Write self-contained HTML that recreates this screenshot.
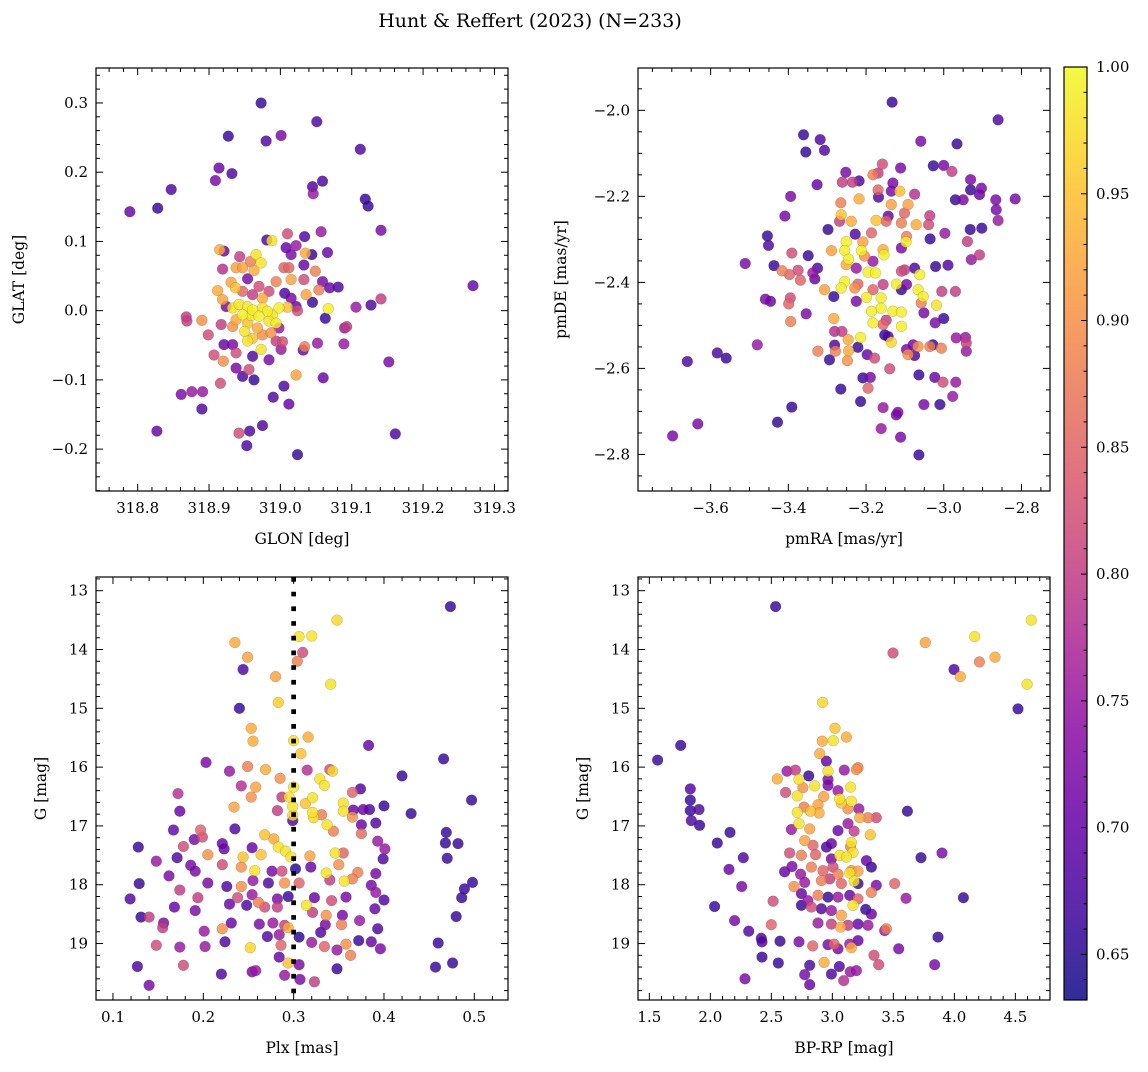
<!DOCTYPE html>
<html><head><meta charset="utf-8"><style>
html,body{margin:0;padding:0;background:#fff;}
svg text{font-family:"DejaVu Serif","Liberation Serif",serif;fill:#000;}
</style></head><body>
<svg id="fig" xmlns="http://www.w3.org/2000/svg" width="1148" height="1067" viewBox="0 0 1148 1067">
<defs>
<linearGradient id="plasmaGrad" x1="0" y1="1" x2="0" y2="0">
<stop offset="0" stop-color="#0d0887"/><stop offset="0.1" stop-color="#41049d"/><stop offset="0.2" stop-color="#6a00a8"/><stop offset="0.3" stop-color="#8f0da4"/><stop offset="0.4" stop-color="#b12a90"/><stop offset="0.5" stop-color="#cc4778"/><stop offset="0.6" stop-color="#e16462"/><stop offset="0.7" stop-color="#f2844b"/><stop offset="0.8" stop-color="#fca636"/><stop offset="0.9" stop-color="#fcce25"/><stop offset="1" stop-color="#f0f921"/>
</linearGradient>
</defs>
<text x="530" y="27" font-size="19" text-anchor="middle">Hunt &amp; Reffert (2023) (N=233)</text>
</svg>
<script>
// ---- data: [x, y, membership probability] ----
const posData = [[318.973,0.300,.66],[319.051,0.273,.68],[318.927,0.252,.66],[318.980,0.245,.68],[319.001,0.253,.72],[319.112,0.233,.68],[318.914,0.206,.7],[318.932,0.198,.68],[318.909,0.188,.72],[318.847,0.175,.68],[318.828,0.148,.66],[318.789,0.143,.7],[319.045,0.179,.68],[319.046,0.169,.75],[319.059,0.187,.68],[319.119,0.161,.66],[319.123,0.151,.66],[319.141,0.116,.72],[319.270,0.036,.7],[318.981,0.102,.68],[318.988,0.101,.98],[319.010,0.111,.82],[319.034,0.107,.68],[319.057,0.114,.75],[319.066,0.084,.7],[319.008,0.091,.7],[319.022,0.094,.75],[319.015,0.081,.72],[319.035,0.083,.93],[319.044,0.081,.66],[318.915,0.088,.93],[318.921,0.086,.7],[318.943,0.078,.8],[318.966,0.081,.98],[318.973,0.069,.98],[318.958,0.071,.88],[318.919,0.060,.78],[318.938,0.062,.92],[318.947,0.062,.92],[318.963,0.058,.93],[319.005,0.062,.85],[319.012,0.062,.85],[319.015,0.045,.92],[319.033,0.066,.7],[319.033,0.045,.82],[319.049,0.057,.88],[319.059,0.042,.72],[319.054,0.030,.88],[319.069,0.033,.7],[319.081,0.034,.68],[318.994,0.042,.88],[318.954,0.046,.72],[318.931,0.041,.92],[318.970,0.035,.82],[318.912,0.029,.93],[318.919,0.016,.92],[318.937,0.033,.95],[318.947,0.028,.85],[318.961,0.023,.8],[318.975,0.018,.93],[318.984,0.028,.82],[319.006,0.025,.68],[319.015,0.018,.72],[319.036,0.023,.92],[319.045,0.012,.66],[319.022,0.006,.7],[319.024,0.000,.82],[319.067,0.003,.99],[319.063,-0.011,.66],[318.924,0.006,.72],[318.933,0.004,.98],[318.942,0.009,.98],[318.954,0.006,.98],[318.961,0.001,.99],[318.975,0.004,.98],[318.982,-0.001,.99],[318.989,-0.006,.98],[318.998,0.004,.99],[319.010,0.005,.95],[318.947,-0.006,.99],[318.959,-0.007,.98],[318.970,-0.008,.99],[318.984,-0.015,.98],[318.994,-0.018,.99],[318.938,-0.013,.93],[318.954,-0.018,.95],[318.868,-0.009,.8],[318.869,-0.015,.8],[318.890,-0.014,.9],[318.917,-0.020,.8],[318.933,-0.023,.9],[318.950,-0.030,.98],[318.968,-0.025,.93],[318.975,-0.035,.9],[318.987,-0.032,.9],[318.998,-0.025,.75],[318.899,-0.035,.82],[318.921,-0.049,.7],[318.933,-0.049,.72],[318.954,-0.044,.98],[318.961,-0.040,.95],[318.973,-0.056,.98],[318.994,-0.044,.8],[319.003,-0.045,.82],[319.001,-0.056,.75],[318.984,-0.071,.72],[318.961,-0.066,.68],[318.938,-0.061,.82],[318.907,-0.064,.82],[318.920,-0.073,.9],[318.938,-0.083,.72],[318.956,-0.085,.82],[318.947,-0.095,.68],[318.963,-0.100,.66],[319.034,-0.052,.88],[319.032,-0.057,.7],[319.052,-0.047,.75],[319.089,-0.048,.75],[319.090,-0.025,.75],[319.093,-0.023,.8],[319.106,0.005,.75],[319.127,0.008,.68],[319.141,0.017,.8],[319.152,-0.074,.72],[319.022,-0.093,.92],[319.060,-0.097,.7],[318.916,-0.105,.82],[318.891,-0.117,.75],[318.876,-0.117,.75],[318.861,-0.121,.72],[318.890,-0.142,.68],[319.005,-0.109,.68],[318.990,-0.125,.68],[319.012,-0.135,.7],[318.827,-0.174,.7],[318.942,-0.177,.82],[318.957,-0.174,.68],[318.975,-0.166,.68],[318.953,-0.195,.68],[319.024,-0.208,.66],[319.161,-0.178,.68]];

const pmData = [[-3.133,-1.981,.66],[-2.860,-2.022,.68],[-3.361,-2.057,.66],[-3.318,-2.068,.68],[-3.355,-2.097,.66],[-3.307,-2.093,.68],[-3.059,-2.072,.72],[-2.966,-2.078,.66],[-3.326,-2.173,.7],[-3.394,-2.200,.72],[-3.409,-2.246,.72],[-3.252,-2.144,.72],[-3.218,-2.164,.68],[-3.261,-2.167,.8],[-3.235,-2.167,.8],[-3.182,-2.150,.88],[-3.169,-2.146,.8],[-3.158,-2.125,.82],[-3.111,-2.134,.72],[-3.027,-2.129,.66],[-3.0,-2.128,.72],[-2.979,-2.142,.8],[-2.931,-2.161,.72],[-2.931,-2.185,.66],[-2.903,-2.181,.72],[-2.908,-2.196,.7],[-2.970,-2.208,.66],[-2.950,-2.208,.72],[-2.866,-2.208,.72],[-2.865,-2.231,.72],[-2.816,-2.206,.72],[-2.860,-2.256,.75],[-2.932,-2.277,.66],[-2.902,-2.274,.66],[-2.997,-2.286,.75],[-2.939,-2.305,.8],[-2.929,-2.347,.75],[-2.908,-2.336,.8],[-3.035,-2.299,.66],[-3.218,-2.206,.93],[-3.168,-2.202,.68],[-3.169,-2.185,.85],[-3.131,-2.169,.72],[-3.135,-2.188,.72],[-3.113,-2.188,.95],[-3.135,-2.219,.92],[-3.092,-2.219,.92],[-3.101,-2.239,.85],[-3.075,-2.195,.78],[-3.036,-2.245,.8],[-3.039,-2.266,.82],[-3.071,-2.266,.93],[-3.265,-2.215,.88],[-3.264,-2.243,.95],[-3.268,-2.258,.8],[-3.238,-2.258,.93],[-3.174,-2.256,.95],[-3.148,-2.258,.85],[-3.109,-2.262,.88],[-3.143,-2.246,.7],[-3.186,-2.285,.85],[-3.096,-2.293,.88],[-3.097,-2.306,.99],[-3.298,-2.277,.66],[-3.228,-2.288,.68],[-3.251,-2.305,.99],[-3.208,-2.306,.92],[-3.255,-2.326,.99],[-3.212,-2.326,.99],[-3.204,-2.339,.9],[-3.156,-2.324,.93],[-3.154,-2.336,.99],[-3.109,-2.320,.72],[-3.245,-2.346,.99],[-3.251,-2.359,.93],[-3.225,-2.367,.75],[-3.182,-2.351,.75],[-3.195,-2.376,.99],[-3.176,-2.378,.99],[-3.289,-2.326,.92],[-3.391,-2.332,.82],[-3.349,-2.338,.66],[-3.325,-2.367,.68],[-3.332,-2.392,.7],[-3.337,-2.378,.75],[-3.375,-2.372,.82],[-3.369,-2.395,.85],[-3.397,-2.382,.85],[-3.416,-2.373,.88],[-3.437,-2.361,.66],[-3.454,-2.292,.66],[-3.451,-2.314,.68],[-3.511,-2.356,.72],[-3.255,-2.398,.99],[-3.264,-2.413,.99],[-3.229,-2.413,.9],[-3.221,-2.404,.85],[-3.307,-2.417,.92],[-3.283,-2.433,.66],[-3.225,-2.444,.72],[-3.199,-2.435,.99],[-3.182,-2.417,.85],[-3.156,-2.405,.8],[-3.122,-2.404,.99],[-3.109,-2.417,.66],[-3.096,-2.405,.72],[-3.101,-2.371,.8],[-3.109,-2.374,.82],[-3.075,-2.367,.68],[-3.062,-2.382,.99],[-3.066,-2.417,.99],[-3.053,-2.433,.99],[-3.021,-2.363,.66],[-2.989,-2.360,.68],[-3.005,-2.421,.8],[-2.970,-2.421,.8],[-3.161,-2.436,.99],[-3.186,-2.467,.99],[-3.161,-2.460,.99],[-3.131,-2.467,.99],[-3.109,-2.469,.99],[-3.148,-2.488,.8],[-3.156,-2.498,.85],[-3.182,-2.494,.99],[-3.109,-2.502,.99],[-3.058,-2.448,.88],[-3.051,-2.471,.72],[-3.019,-2.453,.98],[-3.022,-2.494,.72],[-3.0,-2.484,.66],[-3.459,-2.439,.72],[-3.446,-2.444,.7],[-3.395,-2.436,.82],[-3.399,-2.450,.85],[-3.354,-2.473,.72],[-3.394,-2.491,.88],[-3.283,-2.484,.93],[-3.281,-2.514,.78],[-3.262,-2.514,.8],[-3.246,-2.533,.93],[-3.245,-2.559,.93],[-3.248,-2.582,.9],[-3.214,-2.528,.99],[-3.221,-2.551,.66],[-3.281,-2.546,.68],[-3.279,-2.560,.88],[-3.294,-2.580,.66],[-3.324,-2.560,.88],[-3.197,-2.568,.7],[-3.178,-2.576,.82],[-3.152,-2.522,.66],[-3.143,-2.526,.68],[-3.135,-2.539,.97],[-3.139,-2.601,.82],[-3.096,-2.556,.72],[-3.092,-2.568,.9],[-3.079,-2.545,.72],[-3.066,-2.549,.9],[-3.075,-2.570,.68],[-3.036,-2.549,.88],[-3.028,-2.545,.66],[-3.006,-2.553,.88],[-2.968,-2.529,.75],[-2.944,-2.528,.75],[-2.942,-2.541,.8],[-2.942,-2.560,.75],[-3.208,-2.622,.66],[-3.189,-2.621,.72],[-3.195,-2.646,.85],[-3.265,-2.648,.66],[-3.214,-2.677,.66],[-3.156,-2.691,.75],[-3.122,-2.708,.72],[-3.118,-2.702,.72],[-3.064,-2.615,.66],[-3.023,-2.621,.7],[-3.002,-2.632,.82],[-2.969,-2.632,.75],[-2.977,-2.665,.75],[-3.051,-2.684,.72],[-3.010,-2.684,.66],[-3.161,-2.740,.75],[-3.111,-2.760,.72],[-3.064,-2.801,.66],[-3.480,-2.545,.75],[-3.583,-2.564,.68],[-3.560,-2.576,.66],[-3.660,-2.584,.68],[-3.633,-2.729,.72],[-3.698,-2.757,.72],[-3.428,-2.725,.66],[-3.391,-2.690,.66]];

const plxData = [[0.4735,13.27,.66],[0.348,13.50,.97],[0.306,13.78,.98],[0.32,13.77,.98],[0.235,13.88,.93],[0.249,14.13,.92],[0.31,14.05,.82],[0.304,14.20,.88],[0.244,14.34,.68],[0.28,14.46,.92],[0.341,14.59,.98],[0.283,14.90,.96],[0.24,15.0,.66],[0.253,15.34,.93],[0.255,15.56,.93],[0.3,15.55,.98],[0.316,15.49,.93],[0.308,15.77,.95],[0.383,15.63,.7],[0.466,15.86,.66],[0.203,15.92,.72],[0.229,16.07,.75],[0.249,15.99,.88],[0.269,16.04,.93],[0.285,16.19,.9],[0.315,16.05,.78],[0.34,16.04,.82],[0.343,16.07,.97],[0.329,16.20,.98],[0.334,16.31,.98],[0.3,16.34,.98],[0.42,16.15,.66],[0.242,16.32,.78],[0.258,16.34,.92],[0.172,16.45,.78],[0.287,16.51,.8],[0.253,16.51,.9],[0.295,16.51,.98],[0.321,16.52,.98],[0.365,16.43,.85],[0.374,16.37,.68],[0.497,16.56,.66],[0.234,16.68,.92],[0.174,16.75,.7],[0.282,16.74,.8],[0.299,16.67,.98],[0.313,16.62,.95],[0.321,16.77,.98],[0.355,16.61,.98],[0.355,16.75,.98],[0.331,16.81,.88],[0.366,16.73,.7],[0.377,16.72,.7],[0.384,16.72,.68],[0.4,16.66,.66],[0.43,16.79,.66],[0.322,16.86,.97],[0.299,16.82,.97],[0.365,16.85,.9],[0.299,16.91,.68],[0.235,17.05,.68],[0.337,16.98,.98],[0.344,17.09,.88],[0.375,16.98,.7],[0.391,16.95,.68],[0.167,17.07,.7],[0.197,17.07,.85],[0.199,17.19,.82],[0.19,17.23,.72],[0.128,17.36,.66],[0.178,17.35,.82],[0.268,17.15,.95],[0.278,17.22,.93],[0.283,17.36,.98],[0.291,17.43,.98],[0.254,17.37,.7],[0.221,17.30,.7],[0.223,17.39,.7],[0.375,17.13,.86],[0.393,17.26,.75],[0.401,17.39,.75],[0.399,17.56,.68],[0.469,17.11,.66],[0.468,17.29,.66],[0.482,17.30,.66],[0.47,17.55,.66],[0.148,17.60,.75],[0.171,17.54,.68],[0.186,17.67,.72],[0.191,17.77,.72],[0.205,17.49,.9],[0.244,17.53,.95],[0.264,17.49,.95],[0.297,17.53,.98],[0.318,17.51,.92],[0.346,17.46,.98],[0.355,17.46,.85],[0.257,17.76,.98],[0.221,17.66,.82],[0.242,17.70,.9],[0.276,17.77,.72],[0.287,17.77,.82],[0.302,17.73,.65],[0.319,17.70,.7],[0.336,17.80,.98],[0.35,17.66,.9],[0.371,17.79,.88],[0.391,17.81,.72],[0.162,17.85,.72],[0.205,17.97,.72],[0.129,17.98,.66],[0.226,18.03,.68],[0.242,18.03,.9],[0.255,17.93,.75],[0.272,17.97,.68],[0.29,17.97,.9],[0.306,17.97,.85],[0.34,17.92,.8],[0.356,17.94,.98],[0.365,17.90,.88],[0.386,18.01,.72],[0.391,18.13,.75],[0.4,18.26,.68],[0.498,17.96,.66],[0.489,18.07,.66],[0.486,18.22,.66],[0.119,18.24,.68],[0.174,18.09,.8],[0.194,18.22,.8],[0.238,18.22,.82],[0.254,18.17,.75],[0.261,18.30,.88],[0.282,18.24,.72],[0.294,18.20,.66],[0.323,18.22,.7],[0.342,18.27,.82],[0.358,18.21,.72],[0.168,18.38,.7],[0.191,18.44,.72],[0.229,18.33,.7],[0.248,18.35,.68],[0.268,18.38,.82],[0.282,18.38,.8],[0.314,18.35,.98],[0.321,18.47,.8],[0.336,18.52,.9],[0.354,18.52,.72],[0.373,18.61,.75],[0.39,18.41,.7],[0.48,18.54,.66],[0.131,18.55,.66],[0.14,18.55,.8],[0.156,18.65,.72],[0.155,18.73,.8],[0.201,18.79,.75],[0.221,18.75,.9],[0.231,18.65,.7],[0.262,18.67,.72],[0.277,18.65,.75],[0.29,18.69,.8],[0.294,18.73,.93],[0.306,18.89,.65],[0.33,18.81,.68],[0.335,18.68,.72],[0.353,18.68,.88],[0.393,18.75,.68],[0.224,18.97,.68],[0.271,18.88,.68],[0.284,18.85,.75],[0.286,19.03,.85],[0.252,19.07,.97],[0.148,19.03,.82],[0.174,19.06,.75],[0.202,19.05,.75],[0.32,18.98,.75],[0.334,19.05,.85],[0.348,19.11,.75],[0.358,19.01,.9],[0.363,19.20,.88],[0.372,18.95,.66],[0.386,18.97,.7],[0.396,19.09,.72],[0.46,18.99,.66],[0.284,19.23,.7],[0.294,19.33,.95],[0.127,19.39,.68],[0.178,19.37,.82],[0.22,19.52,.68],[0.254,19.48,.72],[0.258,19.46,.75],[0.29,19.54,.75],[0.306,19.36,.72],[0.307,19.61,.72],[0.323,19.65,.8],[0.348,19.43,.66],[0.457,19.40,.66],[0.476,19.33,.66],[0.14,19.71,.72]];

const cmdData = [[2.535,13.27,.66],[4.631,13.50,.98],[4.167,13.78,.98],[3.762,13.88,.92],[3.497,14.06,.82],[4.333,14.13,.93],[4.205,14.21,.88],[3.997,14.34,.68],[4.049,14.46,.93],[4.596,14.59,.98],[4.522,15.01,.66],[2.921,14.90,.97],[3.022,15.34,.95],[2.918,15.56,.93],[3.008,15.55,.98],[3.115,15.49,.93],[2.896,15.77,.93],[1.568,15.88,.66],[1.757,15.63,.66],[3.615,16.75,.66],[1.836,16.37,.68],[1.836,16.56,.66],[1.836,16.74,.66],[1.907,16.72,.68],[1.844,16.91,.68],[1.912,16.99,.66],[2.057,17.29,.66],[2.161,17.11,.66],[2.27,17.54,.68],[2.153,17.74,.7],[2.257,18.03,.72],[2.035,18.37,.66],[2.199,18.61,.72],[2.314,18.79,.68],[2.418,18.91,.68],[2.423,18.97,.68],[2.571,18.96,.66],[2.423,19.23,.66],[2.557,19.33,.66],[2.284,19.6,.72],[3.727,17.54,.66],[3.899,17.46,.72],[4.074,18.22,.66],[3.866,18.89,.66],[3.839,19.36,.72],[3.544,19.09,.72],[3.604,18.23,.75],[3.511,17.98,.85],[3.443,18.75,.88],[3.341,19.20,.82],[3.38,19.36,.82],[2.514,18.28,.82],[2.5,18.68,.85],[2.727,18.97,.72],[2.839,19.04,.85],[2.932,19.32,.93],[2.814,19.37,.68],[2.773,19.53,.72],[2.814,19.70,.7],[2.992,19.52,.68],[3.057,19.39,.68],[3.093,19.63,.78],[3.147,19.48,.75],[3.197,19.46,.75],[2.951,15.90,.7],[2.964,16.07,.98],[3.098,16.05,.75],[3.197,16.04,.9],[3.21,16.01,.88],[2.628,16.07,.75],[2.697,16.05,.8],[2.549,16.20,.93],[2.727,16.21,.98],[2.806,16.15,.66],[2.964,16.21,.72],[2.855,16.32,.98],[2.759,16.35,.9],[2.617,16.43,.82],[2.713,16.49,.98],[2.964,16.31,.72],[2.929,16.50,.92],[3.046,16.40,.75],[3.15,16.34,.98],[3.06,16.54,.98],[3.074,16.61,.95],[3.156,16.58,.98],[3.128,16.71,.9],[2.882,16.64,.92],[2.891,16.78,.93],[2.713,16.77,.98],[2.822,16.75,.95],[2.768,16.68,.88],[3.218,16.71,.75],[3.224,16.86,.93],[3.292,16.86,.88],[3.36,16.86,.82],[2.727,16.96,.98],[2.664,17.06,.75],[2.814,17.05,.92],[3.046,17.08,.7],[3.128,16.96,.75],[3.178,17.09,.8],[3.311,17.15,.95],[2.773,17.25,.92],[2.841,17.33,.85],[2.951,17.36,.68],[2.992,17.30,.7],[3.15,17.35,.88],[3.156,17.28,.98],[3.169,17.45,.98],[3.06,17.50,.98],[3.115,17.53,.98],[2.65,17.46,.82],[2.746,17.50,.88],[2.863,17.49,.85],[2.992,17.56,.72],[3.279,17.59,.7],[3.32,17.70,.66],[2.669,17.69,.72],[2.609,17.78,.7],[2.74,17.82,.75],[2.828,17.70,.88],[2.923,17.76,.85],[3.005,17.70,.82],[3.046,17.82,.88],[3.156,17.76,.9],[3.21,17.77,.92],[3.142,17.80,.98],[2.686,18.03,.9],[2.773,17.96,.75],[2.91,17.93,.88],[2.978,17.90,.8],[3.074,17.98,.85],[3.178,17.94,.98],[3.21,17.98,.66],[3.36,18.01,.72],[3.32,18.13,.88],[2.746,18.15,.7],[2.8,18.27,.75],[2.882,18.18,.88],[2.964,18.21,.66],[3.046,18.21,.75],[3.142,18.18,.7],[3.21,18.24,.85],[2.746,18.35,.66],[2.828,18.38,.82],[2.91,18.41,.68],[2.992,18.44,.75],[3.074,18.52,.92],[3.169,18.35,.98],[3.273,18.42,.66],[3.32,18.50,.7],[2.882,18.65,.75],[2.992,18.67,.8],[3.068,18.72,.93],[3.128,18.69,.8],[3.21,18.67,.7],[3.292,18.69,.75],[3.429,18.78,.75],[2.964,19.02,.72],[3.046,19.09,.72],[3.142,19.01,.75],[3.156,19.07,.93],[3.21,18.95,.7],[3.014,19.01,.85]];

// ---- axes config ----
const panels = [
 {name:'glon-glat', data:posData, box:[96,68,508,491], xr:[318.7416,319.319], yr:[0.3505,-0.2605], xMaj:0.1, xMin:0.02, yMaj:0.1, yMin:0.02, xd:1, yd:1, xl:'GLON [deg]', yl:'GLAT [deg]', ylx:24},
 {name:'pmra-pmde', data:pmData, box:[638,68,1050,491], xr:[-3.787,-2.7265], yr:[-1.9016,-2.885], xMaj:0.2, xMin:0.05, yMaj:0.2, yMin:0.05, xd:1, yd:1, xl:'pmRA [mas/yr]', yl:'pmDE [mas/yr]', ylx:566},
 {name:'plx-g', data:plxData, box:[96,577,508,1000], xr:[0.0812,0.5373], yr:[12.767,19.96], xMaj:0.1, xMin:0.02, yMaj:1, yMin:0.2, xd:1, yd:0, xl:'Plx [mas]', yl:'G [mag]', ylx:46},
 {name:'bprp-g', data:cmdData, box:[638,577,1050,1000], xr:[1.407,4.784], yr:[12.767,19.96], xMaj:0.5, xMin:0.1, yMaj:1, yMin:0.2, xd:1, yd:0, xl:'BP-RP [mag]', yl:'G [mag]', ylx:588}
];
const cbRange = [0.632, 1.0];
const cbTicks = [0.65,0.70,0.75,0.80,0.85,0.90,0.95,1.00];

const NS='http://www.w3.org/2000/svg';
const svg=document.getElementById('fig');
function mk(tag,attrs,parent){const e=document.createElementNS(NS,tag);for(const k in attrs)e.setAttribute(k,attrs[k]);(parent||svg).appendChild(e);return e;}
const stops=[[0,13,8,135],[.1,65,4,157],[.2,106,0,168],[.3,143,13,164],[.4,177,42,144],[.5,204,71,120],[.6,225,100,98],[.7,242,132,75],[.8,252,166,54],[.9,252,206,37],[1,240,249,33]];
function plasma(p){let t=(p-cbRange[0])/(cbRange[1]-cbRange[0]);t=Math.max(0,Math.min(1,t));
 for(let i=0;i<stops.length-1;i++){const a=stops[i],b=stops[i+1];if(t<=b[0]){const f=(t-a[0])/(b[0]-a[0]);return `rgb(${Math.round(a[1]+f*(b[1]-a[1]))},${Math.round(a[2]+f*(b[2]-a[2]))},${Math.round(a[3]+f*(b[3]-a[3]))})`;}}
 return 'rgb(240,249,33)';}
function fmt(v,d){const s=Math.abs(v).toFixed(d);return (v< -1e-9?'\u2212':'')+s;}

panels.forEach((P,pi)=>{
 const [x0,y0,x1,y1]=P.box, W=x1-x0, H=y1-y0;
 const sx=v=>x0+(v-P.xr[0])/(P.xr[1]-P.xr[0])*W;
 const sy=v=>y0+(v-P.yr[0])/(P.yr[1]-P.yr[0])*H;
 const g=mk('g',{});
 
 
 const cp=mk('clipPath',{id:'clip'+pi},g); mk('rect',{x:x0,y:y0,width:W,height:H},cp);
 const pts=mk('g',{'clip-path':`url(#clip${pi})`},g);
 
 
 const sorted=P.data.slice().sort((a,b)=>a[2]-b[2]);
 sorted.forEach(d=>{
  const c=mk('circle',{cx:sx(d[0]).toFixed(1),cy:sy(d[1]).toFixed(1),r:5.4,fill:plasma(d[2]),'fill-opacity':0.82,stroke:'rgba(60,60,60,0.35)','stroke-width':0.5},pts);
  
  
 });
 if(pi===2){
  const ln=mk('line',{x1:sx(0.3),x2:sx(0.3),y1:y0,y2:y1,stroke:'#000','stroke-width':4.7,'stroke-dasharray':'4.7 10'},g);
  
  
 }
 const fr=mk('rect',{x:x0,y:y0,width:W,height:H,fill:'none',stroke:'#000','stroke-width':1.2},g);
 
 
 const tk=mk('g',{stroke:'#000','stroke-width':1},g);
 
 
 const xa=Math.min(...P.xr), xb=Math.max(...P.xr), ya=Math.min(...P.yr), yb=Math.max(...P.yr);
 for(let k=Math.ceil(xa/P.xMin-1e-6);k<=Math.floor(xb/P.xMin+1e-6);k++){
  const v=k*P.xMin, x=sx(v); const maj=Math.abs(v/P.xMaj-Math.round(v/P.xMaj))<1e-6; const L=maj?7:4;
  mk('line',{x1:x,x2:x,y1:y1,y2:y1-L},tk); mk('line',{x1:x,x2:x,y1:y0,y2:y0+L},tk);
  if(maj){const t=mk('text',{x:x,y:y1+22,'font-size':15,'text-anchor':'middle'},g);t.textContent=fmt(v,P.xd);
   
   }
 }
 for(let k=Math.ceil(ya/P.yMin-1e-6);k<=Math.floor(yb/P.yMin+1e-6);k++){
  const v=k*P.yMin, y=sy(v); const maj=Math.abs(v/P.yMaj-Math.round(v/P.yMaj))<1e-6; const L=maj?7:4;
  mk('line',{x1:x0,x2:x0+L,y1:y,y2:y},tk); mk('line',{x1:x1,x2:x1-L,y1:y,y2:y},tk);
  if(maj){const t=mk('text',{x:x0-8,y:y+5,'font-size':15,'text-anchor':'end'},g);t.textContent=fmt(v,P.yd);
   
   }
 }
 const xl=mk('text',{x:x0+W/2,y:y1+53,'font-size':15.5,'text-anchor':'middle'},g);xl.textContent=P.xl;
 
 
 const yl=mk('text',{x:P.ylx,y:y0+H/2,'font-size':15.5,'text-anchor':'middle',transform:`rotate(-90 ${P.ylx} ${y0+H/2})`},g);yl.textContent=P.yl;
 
 
});

// colorbar
const cb=mk('g',{});


const cx0=1064,cx1=1087,cy0=67,cy1=1000;
mk('rect',{x:cx0,y:cy0,width:cx1-cx0,height:cy1-cy0,fill:'url(#plasmaGrad)','fill-opacity':0.85},cb);
mk('rect',{x:cx0,y:cy0,width:cx1-cx0,height:cy1-cy0,fill:'none',stroke:'#000','stroke-width':1.2},cb);
const cys=v=>cy1-(v-cbRange[0])/(cbRange[1]-cbRange[0])*(cy1-cy0);
for(let k=Math.ceil(cbRange[0]*100-1e-6);k<=Math.floor(cbRange[1]*100+1e-6);k++){
 const v=k/100,y=cys(v); const maj=k%5===0;
 mk('line',{x1:cx1,x2:cx1-(maj?6:3.5),y1:y,y2:y,stroke:'#000','stroke-width':1},cb);
}
cbTicks.forEach(v=>{const t=mk('text',{x:1096,y:cys(v)+5,'font-size':15},cb);t.textContent=v.toFixed(2);
 
 });
</script>
</body></html>
